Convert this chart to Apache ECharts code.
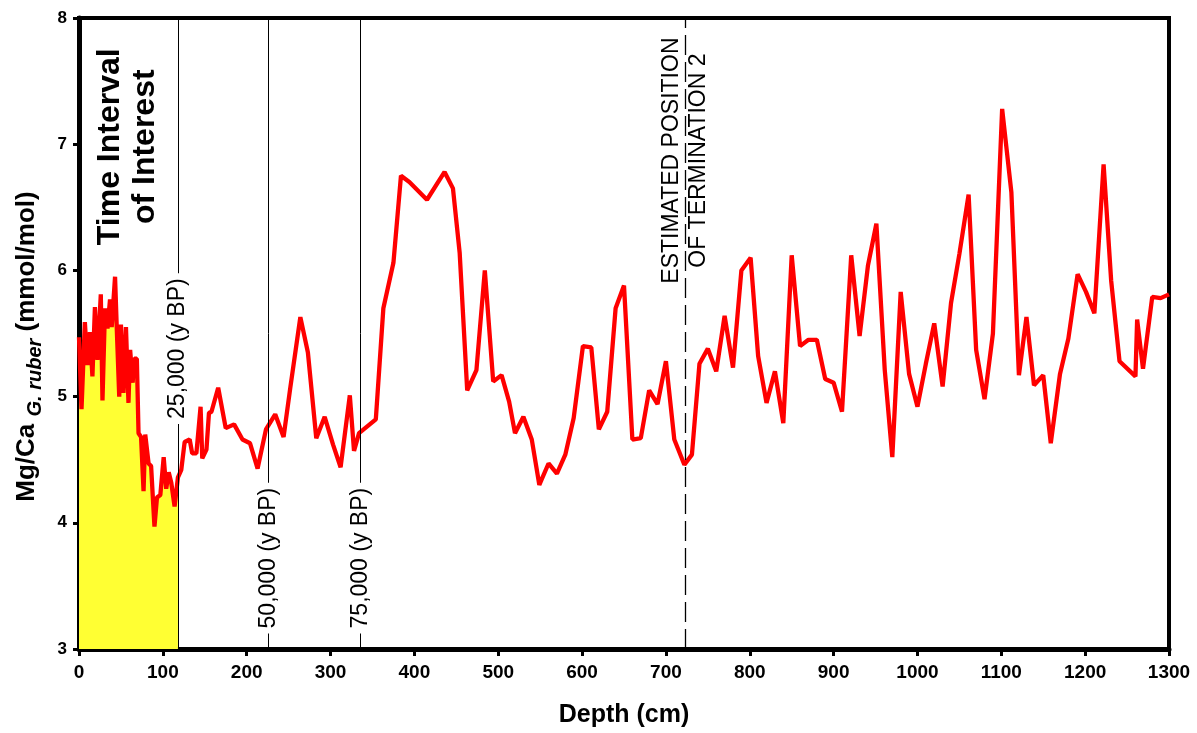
<!DOCTYPE html>
<html><head><meta charset="utf-8">
<script src="https://cdn.jsdelivr.net/npm/echarts@6/dist/echarts.min.js"></script>
<style>html,body{margin:0;padding:0;background:#fff}#c{width:1197px;height:733px}</style>
</head><body><div id="c"></div>
<script>
// Depth (cm) and Mg/Ca (mmol/mol)
const depths = [0,3,7,10,13,16,19,22,26,28,31,34,37,39,43,45,48,50,53,56,59,61,64,66,69,71,74,77,79,83,86,90,93,97,101,104,107,110,114,118,
  122,126,132,135,140,145,147,152,155,158,166,175,185,195,204,213,223,234,244,252,264,273,283,293,303,312,323,328,334,354,363,375,384,394,415,436,446,454,463,474,484,494,504,513,520,530,540,549,560,570,580,590,601,611,620,630,640,650,660,670,680,690,700,710,722,731,740,750,760,770,780,790,801,810,820,830,840,850,860,870,880,890,900,910,921,931,941,951,961,970,980,990,1000,1010,1020,1030,1040,1050,1061,1070,1080,1090,1101,1112,1121,1130,1139,1150,1159,1170,1180,1191,1201,1211,1222,1231,1241,1260,1262,1269,1280,1290,1300];
const mgca = [5.47,4.90,5.59,5.25,5.51,5.16,5.71,5.29,5.81,4.97,5.70,5.54,5.77,5.55,5.95,5.55,5.00,5.57,5.03,5.55,4.95,5.37,5.11,5.30,5.30,4.71,4.68,4.25,4.70,4.47,4.45,3.97,4.20,4.22,4.52,4.27,4.40,4.32,4.13,4.36,
  4.42,4.64,4.66,4.55,4.55,4.92,4.51,4.58,4.87,4.88,5.07,4.75,4.78,4.66,4.63,4.43,4.74,4.86,4.68,5.07,5.63,5.35,4.67,4.84,4.62,4.44,5.01,4.57,4.71,4.82,5.70,6.06,6.75,6.70,6.56,6.78,6.65,6.14,5.05,5.21,6.00,5.12,5.17,4.96,4.71,4.84,4.66,4.30,4.47,4.39,4.54,4.83,5.40,5.39,4.74,4.88,5.70,5.88,4.66,4.67,5.05,4.94,5.28,4.66,4.46,4.54,5.26,5.38,5.20,5.64,5.23,6.00,6.10,5.32,4.95,5.20,4.79,6.12,5.40,5.45,5.45,5.14,5.11,4.88,6.12,5.48,6.04,6.37,5.21,4.52,5.83,5.18,4.92,5.26,5.58,5.08,5.74,6.13,6.60,5.37,4.98,5.50,7.28,6.62,5.17,5.63,5.09,5.17,4.63,5.18,5.46,5.97,5.83,5.66,6.84,5.92,5.28,5.16,5.61,5.22,5.79,5.78,5.81];

const intervalEnd = 118;
const intervalLabel = 'Time Interval\nof Interest';
const intervalLabelPos = [58, 6.98];
const markerDepths = [118, 226, 336];
const markerLabels = ['25,000 (y BP)', '50,000 (y BP)', '75,000 (y BP)'];
const markerLabelValues = [5.38, 3.72, 3.72];
const terminationDepth = 723;
const terminationLabel = 'ESTIMATED POSITION\nOF TERMINATION 2';
const terminationLabelValue = 6.87;
const xName = 'Depth (cm)';

const pairs = depths.map((d, i) => [d, mgca[i]]);
const fillPairs = pairs.filter(p => p[0] <= intervalEnd);

const sans = '"Liberation Sans", Arial, sans-serif';
const noStroke = {textBorderWidth: 0, textBorderColor: 'transparent', textShadowBlur: 0, opacity: 1};

const chart = echarts.init(document.getElementById('c'), null, {renderer: 'canvas'});
chart.setOption({
  backgroundColor: '#fff',
  animation: false,
  grid: {left: 79, right: 28, top: 18, bottom: 84, show: true, borderColor: '#000', borderWidth: 4, backgroundColor: 'transparent'},
  xAxis: {
    type: 'value', min: 0, max: 1300, interval: 100,
    axisLine: {show: true, onZero: false, lineStyle: {color: '#000', width: 5}},
    axisTick: {show: true, inside: false, length: 7, lineStyle: {color: '#000', width: 3}},
    axisLabel: {color: '#000', fontFamily: sans, fontWeight: 'bold', fontSize: 19, margin: 14, formatter: v => String(v)},
    splitLine: {show: false},
    name: xName, nameLocation: 'middle', nameGap: 54,
    nameTextStyle: {color: '#000', fontFamily: sans, fontWeight: 'bold', fontSize: 25}
  },
  yAxis: {
    type: 'value', min: 3, max: 8, interval: 1,
    axisLine: {show: true, onZero: false, lineStyle: {color: '#000', width: 5}},
    axisTick: {show: true, inside: false, length: 6, lineStyle: {color: '#000', width: 3}},
    axisLabel: {color: '#000', fontFamily: sans, fontWeight: 'bold', fontSize: 17, margin: 12},
    splitLine: {show: false},
    name: '{a|Mg/Ca }{s|G. ruber}{e| (mmol/mol)}', nameLocation: 'middle', nameRotate: 90, nameGap: 34,
    nameTextStyle: {
      rich: {
        a: {fontFamily: sans, fontWeight: 'bold', fontSize: 26, color: '#000', lineHeight: 36, verticalAlign: 'middle'},
        s: {fontFamily: sans, fontWeight: 'bold', fontStyle: 'italic', fontSize: 20, color: '#000', lineHeight: 36, verticalAlign: 'bottom'},
        e: {fontFamily: sans, fontWeight: 'bold', fontSize: 26, color: '#000', lineHeight: 36, verticalAlign: 'middle', padding: [0, 26, 0, 0]}
      }
    }
  },
  series: [
    {
      type: 'line', data: fillPairs, showSymbol: false, symbol: 'none',
      lineStyle: {width: 0}, areaStyle: {color: '#ffff33', opacity: 1, origin: 'start'}, z: 1, silent: true,
      markLine: {
        silent: true, symbol: ['none', 'none'], label: {show: false},
        data: markerDepths.map(d => ({xAxis: d, lineStyle: {color: '#000', width: 1, type: 'solid'}}))
          .concat([{xAxis: terminationDepth, lineStyle: {color: '#000', width: 1.3, type: [20, 7]}}])
      }
    },
    {
      type: 'line', data: pairs, showSymbol: false, symbol: 'none',
      lineStyle: {color: '#ff0000', width: 4.3}, z: 3
    },
    {
      type: 'scatter', symbolSize: 0, z: 5, silent: true, itemStyle: {color: '#000', opacity: 1},
      data: markerDepths.map((d, i) => ({
        value: [d, markerLabelValues[i]],
        label: Object.assign({show: true, position: 'inside', rotate: 90, formatter: markerLabels[i], color: '#000',
          fontFamily: sans, fontSize: 23, backgroundColor: '#fff', padding: [0, 5]}, noStroke)
      })).concat([
        {value: [terminationDepth, terminationLabelValue],
         label: Object.assign({show: true, position: 'inside', rotate: 90, formatter: terminationLabel, color: '#000',
           fontFamily: sans, fontSize: 23, lineHeight: 27, align: 'center'}, noStroke)},
        {value: intervalLabelPos,
         label: Object.assign({show: true, position: 'inside', rotate: 90, formatter: intervalLabel, color: '#000',
           fontFamily: sans, fontWeight: 'bold', fontSize: 32, lineHeight: 35, align: 'center'}, noStroke)}
      ])
    }
  ]
});
</script>
</body></html>
